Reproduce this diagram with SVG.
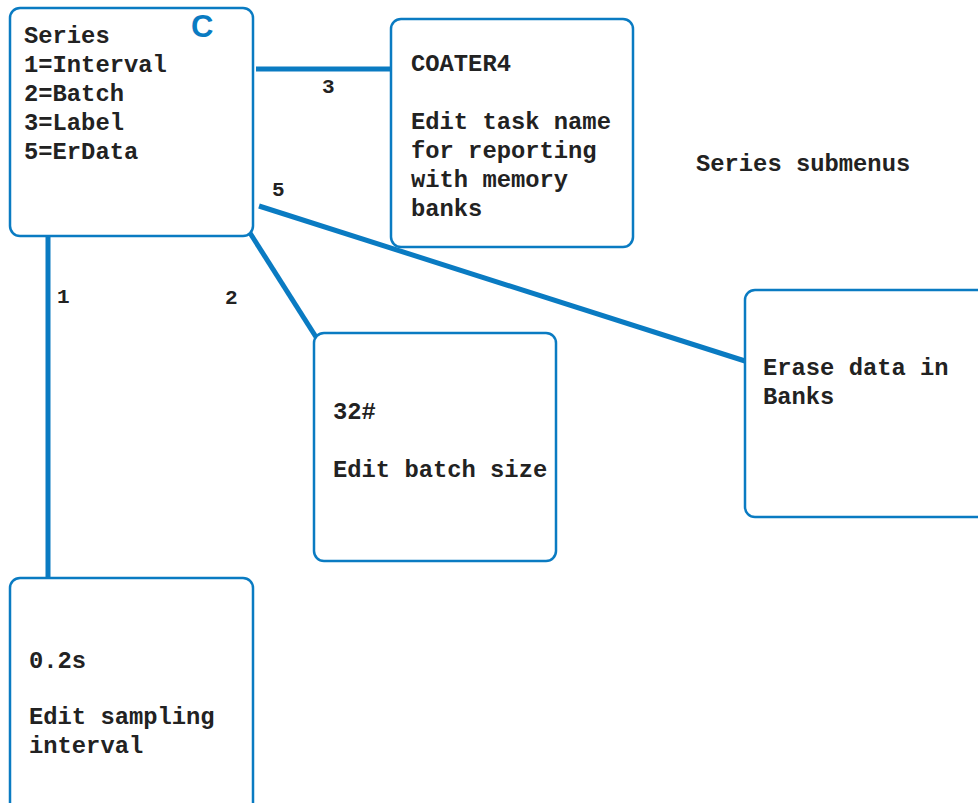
<svg xmlns="http://www.w3.org/2000/svg" width="978" height="803" viewBox="0 0 978 803">
<style>
.box{fill:#fff;stroke:#0a7bc2;stroke-width:2.5}
.con{stroke:#0a7bc2;stroke-width:5;fill:none}
.t{font-family:"Liberation Mono","Courier New",monospace;font-weight:bold;font-size:23.8px;fill:#222}
.lbl{font-family:"Liberation Mono","Courier New",monospace;font-weight:bold;font-size:21px;fill:#222}
</style>
<rect width="978" height="803" fill="#fff"/>
<g id="connectors">
<line class="con" x1="256" y1="69" x2="391" y2="69"/>
<line class="con" x1="259" y1="206" x2="745" y2="361"/>
<line class="con" x1="250" y1="233" x2="316" y2="337"/>
<line class="con" x1="48" y1="236" x2="48" y2="578"/>
<text class="lbl" x="322" y="93">3</text>
<text class="lbl" x="272" y="196">5</text>
<text class="lbl" x="225" y="304">2</text>
<text class="lbl" x="57" y="303">1</text>
</g>
<g id="series">
<rect class="box" x="10" y="8" width="243" height="228" rx="10"/>
<text x="191" y="37" font-family="Liberation Sans, Arial, sans-serif" font-weight="bold" font-size="31" fill="#0a7bc2">C</text>
<text class="t" x="24" y="43">Series</text>
<text class="t" x="24" y="72">1=Interval</text>
<text class="t" x="24" y="101">2=Batch</text>
<text class="t" x="24" y="130">3=Label</text>
<text class="t" x="24" y="159">5=ErData</text>
</g>
<g id="label">
<rect class="box" x="391" y="19" width="242" height="228" rx="10"/>
<text class="t" x="411" y="71">COATER4</text>
<text class="t" x="411" y="129">Edit task name</text>
<text class="t" x="411" y="158">for reporting</text>
<text class="t" x="411" y="187">with memory</text>
<text class="t" x="411" y="216">banks</text>
</g>
<g id="batch">
<rect class="box" x="314" y="333" width="242" height="228" rx="10"/>
<text class="t" x="333" y="419">32#</text>
<text class="t" x="333" y="477">Edit batch size</text>
</g>
<g id="erdata">
<rect class="box" x="745" y="290" width="260" height="227" rx="10"/>
<text class="t" x="763" y="375">Erase data in</text>
<text class="t" x="763" y="404">Banks</text>
</g>
<g id="interval">
<rect class="box" x="10" y="578" width="243" height="240" rx="10"/>
<text class="t" x="29" y="668">0.2s</text>
<text class="t" x="29" y="724">Edit sampling</text>
<text class="t" x="29" y="753">interval</text>
</g>
<g id="title">
<text class="t" x="696" y="171">Series submenus</text>
</g>
</svg>
